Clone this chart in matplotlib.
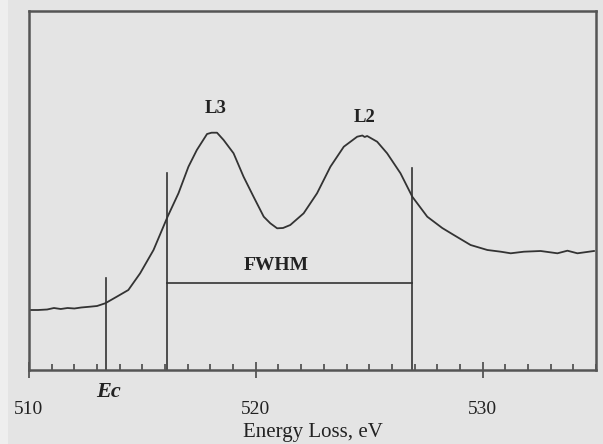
import matplotlib
matplotlib.use("Agg")
import matplotlib.pyplot as plt
from matplotlib.ticker import MultipleLocator
from matplotlib.patches import Rectangle

# Spectrum (energy in eV, intensity in arbitrary units)
energy = [510.0, 510.4, 510.8, 511.1, 511.4, 511.7, 512.0, 512.3, 512.69, 513.0,
          513.36, 513.87, 514.38, 514.9, 515.49, 516.11, 516.59, 517.03, 517.4, 517.85,
          518.05, 518.29, 518.58, 519.02, 519.46, 519.9, 520.35, 520.64, 520.94, 521.2,
          521.52, 522.11, 522.7, 523.29, 523.88, 524.47, 524.7, 524.8, 524.91, 525.35,
          525.79, 526.38, 526.9, 527.56, 528.22, 528.73, 529.47, 530.21, 530.8, 531.24,
          531.82, 532.56, 533.3, 533.74, 534.18, 534.91]
intensity = [60, 60, 60.5, 62, 61, 62, 61.5, 62.5, 63.3, 64,
             66.7, 73.3, 80, 96.7, 120, 153.3, 176.7, 203.3, 220, 236,
             237.3, 237.3, 230, 216.7, 193.3, 173.3, 153.3, 146.7, 141.7, 142,
             145, 156.7, 176.7, 203.3, 223.3, 233.3, 234.5, 233, 234, 228.3,
             216.7, 196.7, 173.3, 153.3, 142, 135, 125, 120, 118.3, 116.7,
             118.3, 119, 116.7, 119.3, 116.7, 119]

# Markers / annotations
ec_energy = 513.4
ec_top = 92
fwhm_left = 516.1
fwhm_left_top = 197
fwhm_right = 526.9
fwhm_right_top = 202
fwhm_level = 87
peak_labels = ["L3", "L2"]
peak_label_x = [518.25, 524.8]
peak_label_y = [262, 253]
xticks = [510, 520, 530]

bg = "#e4e4e4"
ink = "#333333"
frame = "#555555"

fig = plt.figure(figsize=(6.03, 4.44), dpi=100, facecolor=bg)
fig.patches.append(Rectangle((0, 0), 8 / 603, 1, transform=fig.transFigure,
                             facecolor="#eeeeee", edgecolor="none", zorder=0))
ax = fig.add_axes([29 / 603, 74 / 444, 567 / 603, 359 / 444], facecolor=bg)

serif = ["Liberation Serif", "DejaVu Serif"]

ax.plot(energy, intensity, color=ink, lw=1.3)

ax.plot([ec_energy, ec_energy], [0, ec_top], color=ink, lw=1.2)
ax.plot([fwhm_left, fwhm_left], [0, fwhm_left_top], color=ink, lw=1.2)
ax.plot([fwhm_right, fwhm_right], [0, fwhm_right_top], color=ink, lw=1.2)
ax.plot([fwhm_left, fwhm_right], [fwhm_level, fwhm_level], color=ink, lw=1.2)

ax.text((fwhm_left + fwhm_right) / 2 - 0.6, fwhm_level + 18, "FWHM", ha="center",
        va="center", fontsize=14, fontweight="bold", family=serif, color="#222222")
for lab, lx, ly in zip(peak_labels, peak_label_x, peak_label_y):
    ax.text(lx, ly, lab, ha="center", va="center", fontsize=13.5,
            fontweight="bold", family=serif, color="#222222")

ax.set_xlim(510, 535)
ax.set_ylim(0, 359)
ax.set_yticks([])
ax.set_xticks(xticks)
ax.xaxis.set_minor_locator(MultipleLocator(1))
ax.set_xticklabels([str(t) for t in xticks], family=serif, fontsize=14, color="#222222")
ax.tick_params(axis="x", which="major", direction="inout", length=12, width=1.3,
               color=frame, pad=16)
ax.tick_params(axis="x", which="minor", direction="in", length=4.5, width=1.3,
               color=frame)
for s in ax.spines.values():
    s.set_color(frame)
    s.set_linewidth(1.8)

ax.text(ec_energy + 0.1, -22, "Ec", transform=ax.transData, ha="center", va="center",
        fontsize=16, fontweight="bold", fontstyle="italic", family=serif,
        color="#222222", clip_on=False)

ax.set_xlabel("Energy Loss, eV", family=serif, fontsize=15, color="#222222", labelpad=4)

fig.savefig("out.png", dpi=100, facecolor=bg)
